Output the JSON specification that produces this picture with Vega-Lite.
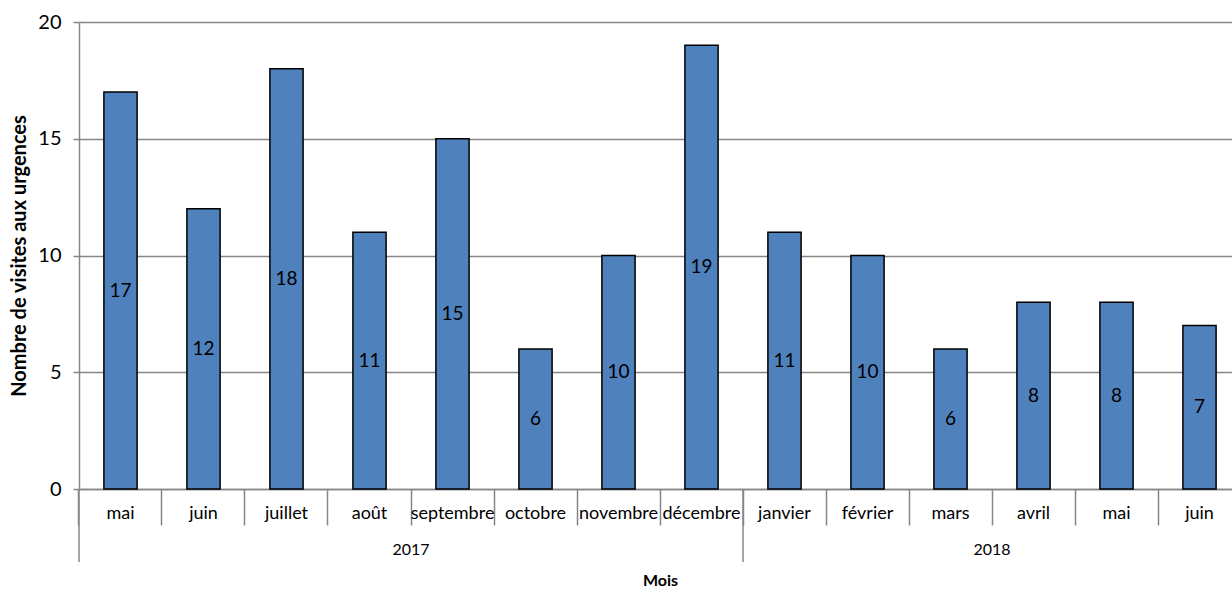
{
  "$schema": "https://vega.github.io/schema/vega-lite/v6.json",
  "width": 1153,
  "height": 467,
  "autosize": {"type": "none"},
  "padding": {"left": 79, "top": 22, "right": 0, "bottom": 100},
  "config": {"font": "Lato", "view": {"stroke": null}},
  "datasets": {
    "months": [
      {"cat": "mai 2017", "value": 17},
      {"cat": "juin 2017", "value": 12},
      {"cat": "juillet 2017", "value": 18},
      {"cat": "août 2017", "value": 11},
      {"cat": "septembre 2017", "value": 15},
      {"cat": "octobre 2017", "value": 6},
      {"cat": "novembre 2017", "value": 10},
      {"cat": "décembre 2017", "value": 19},
      {"cat": "janvier 2018", "value": 11},
      {"cat": "février 2018", "value": 10},
      {"cat": "mars 2018", "value": 6},
      {"cat": "avril 2018", "value": 8},
      {"cat": "mai 2018", "value": 8},
      {"cat": "juin 2018", "value": 7}
    ],
    "years": [
      {"year": "2017", "start": "mai 2017", "mid": "septembre 2017"},
      {"year": "2018", "start": "janvier 2018", "mid": "avril 2018"}
    ]
  },
  "resolve": {"scale": {"y": "independent"}},
  "layer": [
    {
      "data": {"name": "months"},
      "mark": {"type": "bar", "fill": "#4F81BD", "stroke": "#000000", "strokeWidth": 1.5},
      "encoding": {
        "x": {
          "field": "cat", "type": "nominal", "sort": null,
          "scale": {"range": [0, 1162], "paddingInner": 0.6, "paddingOuter": 0.3},
          "axis": {
            "title": "Mois", "titleFontWeight": "bold", "titleFontSize": 16, "titlePadding": 47, "titleColor": "#000000",
            "labelExpr": "split(datum.label, ' ')[0]", "labelAngle": 0, "labelAlign": "center", "labelFontSize": 18, "labelColor": "#000000",
            "labelPadding": -21, "tickSize": 36, "tickColor": "#868686", "tickWidth": 1.5,
            "domainColor": "#868686", "domainWidth": 1.5, "bandPosition": -0.75
          }
        },
        "y": {
          "field": "value", "type": "quantitative",
          "scale": {"domain": [0, 20], "nice": false},
          "axis": {
            "title": "Nombre de visites aux urgences", "titleFontWeight": "bold", "titleFontSize": 20, "titleColor": "#000000", "titlePadding": 8,
            "values": [0, 5, 10, 15, 20], "labelFontSize": 20, "labelColor": "#000000", "labelPadding": 12,
            "tickSize": 6, "tickColor": "#868686", "tickWidth": 1.5,
            "domainColor": "#868686", "domainWidth": 1.5,
            "grid": true, "gridColor": "#868686", "gridWidth": 1.5
          }
        }
      }
    },
    {
      "data": {"name": "months"},
      "mark": {"type": "text", "fontSize": 19, "baseline": "middle", "color": "#000000"},
      "encoding": {
        "x": {"field": "cat", "type": "nominal", "sort": null},
        "y": {"field": "value", "type": "quantitative", "scale": {"domain": [0, 40], "nice": false}, "axis": null},
        "text": {"field": "value", "type": "quantitative"}
      }
    },
    {
      "data": {"name": "years"},
      "mark": {"type": "rule", "color": "#868686", "strokeWidth": 1.5},
      "encoding": {
        "x": {"field": "start", "type": "nominal", "sort": null, "bandPosition": -0.75},
        "y": {"datum": 0, "type": "quantitative", "scale": {"domain": [0, 20], "nice": false}, "axis": null},
        "y2": {"datum": -3.13}
      }
    },
    {
      "data": {"name": "years"},
      "mark": {"type": "text", "fontSize": 16, "baseline": "middle", "color": "#000000"},
      "encoding": {
        "x": {"field": "mid", "type": "nominal", "sort": null, "bandPosition": -0.75},
        "y": {"datum": -2.61, "type": "quantitative", "scale": {"domain": [0, 20], "nice": false}, "axis": null},
        "text": {"field": "year", "type": "nominal"}
      }
    }
  ]
}
